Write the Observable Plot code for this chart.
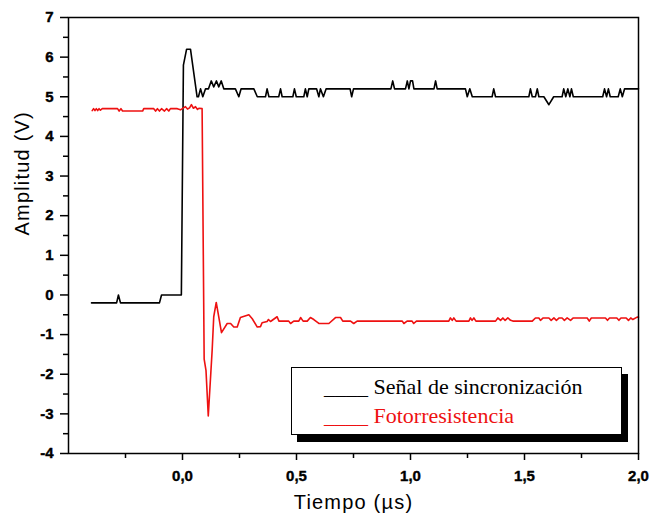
<!DOCTYPE html>
<html>
<head>
<meta charset="utf-8">
<script src="https://cdn.jsdelivr.net/npm/d3@7"></script>
<script src="https://cdn.jsdelivr.net/npm/@observablehq/plot@0.6"></script>
<style>
  html, body { margin: 0; padding: 0; background: #fff; }
  #wrap { position: relative; width: 651px; height: 520px; }
  #legend {
    position: absolute; left: 291px; top: 367px; width: 329px; height: 66px;
    border: 1.5px solid #000; background: #fff; box-shadow: 6px 7px 0 #000;
    font-family: "Liberation Serif", "Times New Roman", serif; font-size: 22px;
  }
  #legend div { position: absolute; left: 32px; white-space: pre; line-height: 29px; }
</style>
</head>
<body>
<div id="wrap"></div>
<script>
// Señal de sincronización (black)
const sincT = [-0.399,-0.289,-0.281,-0.272,-0.101,-0.092,-0.005,0.004,0.018,0.035,0.064,0.070,0.079,0.089,0.101,0.114,0.126,0.137,0.149,0.159,0.170,0.181,0.232,0.247,0.257,0.313,0.328,0.364,0.371,0.379,0.422,0.430,0.437,0.484,0.491,0.499,0.532,0.539,0.547,0.554,0.588,0.598,0.605,0.618,0.630,0.735,0.742,0.750,0.914,0.922,0.930,0.978,0.986,0.993,1.000,1.009,1.015,1.103,1.110,1.117,1.241,1.249,1.260,1.271,1.358,1.365,1.373,1.519,1.526,1.534,1.548,1.556,1.563,1.585,1.607,1.628,1.665,1.672,1.681,1.690,1.699,1.706,1.714,1.843,1.851,1.860,1.868,1.876,1.911,1.920,1.929,1.939,2.000];
const sincV = [-0.2,-0.2,0.0,-0.2,-0.2,0.0,0.0,5.8,6.2,6.2,5.0,5.0,5.2,5.0,5.2,5.2,5.4,5.25,5.4,5.25,5.4,5.2,5.2,5.0,5.2,5.2,5.0,5.0,5.2,5.0,5.0,5.2,5.0,5.0,5.2,5.0,5.0,5.2,5.0,5.2,5.2,5.0,5.2,5.0,5.2,5.2,5.0,5.2,5.2,5.4,5.2,5.2,5.4,5.2,5.4,5.4,5.2,5.2,5.4,5.2,5.2,5.0,5.2,5.0,5.0,5.2,5.0,5.0,5.2,5.0,5.0,5.2,5.0,5.0,4.8,5.0,5.0,5.2,5.0,5.2,5.0,5.2,5.0,5.0,5.2,5.0,5.2,5.0,5.0,5.2,5.0,5.2,5.2];

// Fotorresistencia (red)
const fotoT = [-0.396,-0.390,-0.384,-0.378,-0.372,-0.366,-0.360,-0.352,-0.285,-0.278,-0.270,-0.263,-0.175,-0.170,-0.126,-0.118,-0.110,-0.101,-0.092,-0.079,-0.070,-0.060,-0.053,-0.023,-0.009,0.013,0.022,0.031,0.039,0.048,0.057,0.066,0.072,0.086,0.095,0.103,0.113,0.130,0.137,0.148,0.171,0.196,0.211,0.225,0.240,0.254,0.291,0.306,0.328,0.342,0.349,0.371,0.377,0.386,0.415,0.423,0.466,0.474,0.488,0.510,0.518,0.529,0.547,0.561,0.576,0.598,0.642,0.671,0.693,0.703,0.737,0.751,0.766,0.964,0.971,0.985,1.007,1.014,1.026,1.168,1.175,1.183,1.190,1.200,1.256,1.263,1.270,1.278,1.287,1.373,1.383,1.395,1.405,1.415,1.427,1.439,1.449,1.534,1.548,1.563,1.570,1.582,1.607,1.617,1.629,1.640,1.652,1.665,1.675,1.687,1.702,1.714,1.775,1.784,1.793,1.855,1.864,1.873,1.905,1.914,1.923,1.946,1.956,1.966,1.975,1.994,2.000];
const fotoV = [4.65,4.70,4.65,4.70,4.65,4.70,4.66,4.70,4.70,4.64,4.70,4.64,4.64,4.70,4.70,4.64,4.70,4.64,4.70,4.64,4.70,4.64,4.70,4.70,4.67,4.75,4.69,4.72,4.80,4.71,4.75,4.68,4.71,4.70,-1.62,-1.90,-3.05,-1.40,-0.55,-0.19,-0.95,-0.72,-0.72,-0.81,-0.81,-0.57,-0.50,-0.60,-0.81,-0.80,-0.70,-0.67,-0.62,-0.67,-0.55,-0.66,-0.66,-0.72,-0.66,-0.66,-0.57,-0.66,-0.66,-0.57,-0.62,-0.72,-0.72,-0.57,-0.57,-0.66,-0.66,-0.72,-0.66,-0.66,-0.72,-0.66,-0.66,-0.72,-0.66,-0.66,-0.58,-0.64,-0.58,-0.66,-0.66,-0.58,-0.64,-0.58,-0.66,-0.66,-0.58,-0.64,-0.58,-0.64,-0.58,-0.64,-0.66,-0.66,-0.58,-0.58,-0.64,-0.58,-0.58,-0.64,-0.58,-0.64,-0.58,-0.58,-0.64,-0.58,-0.64,-0.58,-0.58,-0.66,-0.58,-0.58,-0.64,-0.58,-0.58,-0.64,-0.58,-0.58,-0.64,-0.58,-0.62,-0.56,-0.56];

// Ticks
const xTicks = [0, 0.5, 1, 1.5, 2];
const xMinor = [-0.25, 0.25, 0.75, 1.25, 1.75];
const yTicks = [-4, -3, -2, -1, 0, 1, 2, 3, 4, 5, 6, 7];
const yMinor = [-3.5, -2.5, -1.5, -0.5, 0.5, 1.5, 2.5, 3.5, 4.5, 5.5, 6.5];

const xLabel = "Tiempo (\u00b5s)";
const yLabel = "Amplitud (V)";
const seriesNames = ["Se\u00f1al de sincronizaci\u00f3n", "Fotorresistencia"];
const seriesColors = ["#000000", "#ee1111"];

const sinc = sincT.map((t, i) => ({t, v: sincV[i]}));
const foto = fotoT.map((t, i) => ({t, v: fotoV[i]}));
const fmtX = d => d.toFixed(1).replace(".", ",");

const chart = Plot.plot({
  width: 651,
  height: 520,
  marginLeft: 68,
  marginRight: 13,
  marginTop: 17,
  marginBottom: 67,
  style: {fontFamily: "Arial, 'Liberation Sans', sans-serif", background: "#fff", overflow: "visible"},
  x: {domain: [-0.5, 2.0]},
  y: {domain: [-4, 7]},
  marks: [
    Plot.line(sinc, {x: "t", y: "v", stroke: seriesColors[0], strokeWidth: 1.6}),
    Plot.line(foto, {x: "t", y: "v", stroke: seriesColors[1], strokeWidth: 1.6}),
    Plot.frame({stroke: "#000", strokeWidth: 1.5}),
    Plot.axisX(xTicks, {tickSize: 7, strokeWidth: 1.5, tickFormat: () => "", label: null}),
    Plot.axisX(xMinor, {tickSize: 5, strokeWidth: 1.5, tickFormat: () => "", label: null}),
    Plot.axisY(yTicks, {tickSize: 8, strokeWidth: 1.5, tickFormat: () => "", label: null}),
    Plot.axisY(yMinor, {tickSize: 5, strokeWidth: 1.5, tickFormat: () => "", label: null}),
    // bold tick labels
    Plot.text(xTicks, {x: d => d, frameAnchor: "bottom", dy: 27, text: fmtX, fontSize: 15, fontWeight: "bold",
      fill: "#000", stroke: "#000", strokeWidth: 0.4}),
    Plot.text(yTicks, {y: d => d, frameAnchor: "left", dx: -15, textAnchor: "end", text: d => String(d),
      fontSize: 15, fontWeight: "bold", fill: "#000", stroke: "#000", strokeWidth: 0.4}),
    // axis titles
    Plot.text([xLabel], {frameAnchor: "bottom", dy: 55, text: d => d, fontSize: 20, fill: "#000"}),
    Plot.text([yLabel], {frameAnchor: "left", dx: -46, rotate: -90, text: d => d, fontSize: 20, fill: "#000"})
  ]
});

// slightly wider spacing on the axis titles, as in the original
d3.select(chart).selectAll("text").each(function() {
  const txt = this.textContent;
  if (txt === xLabel || txt === yLabel) this.setAttribute("letter-spacing", "1.2");
});

const wrap = document.getElementById("wrap");
wrap.appendChild(chart);

const legend = document.createElement("div");
legend.id = "legend";
seriesNames.forEach((name, i) => {
  const line = document.createElement("div");
  line.textContent = "____ " + name;
  line.style.color = seriesColors[i];
  line.style.top = (4 + i * 29) + "px";
  legend.appendChild(line);
});
wrap.appendChild(legend);
</script>
</body>
</html>
